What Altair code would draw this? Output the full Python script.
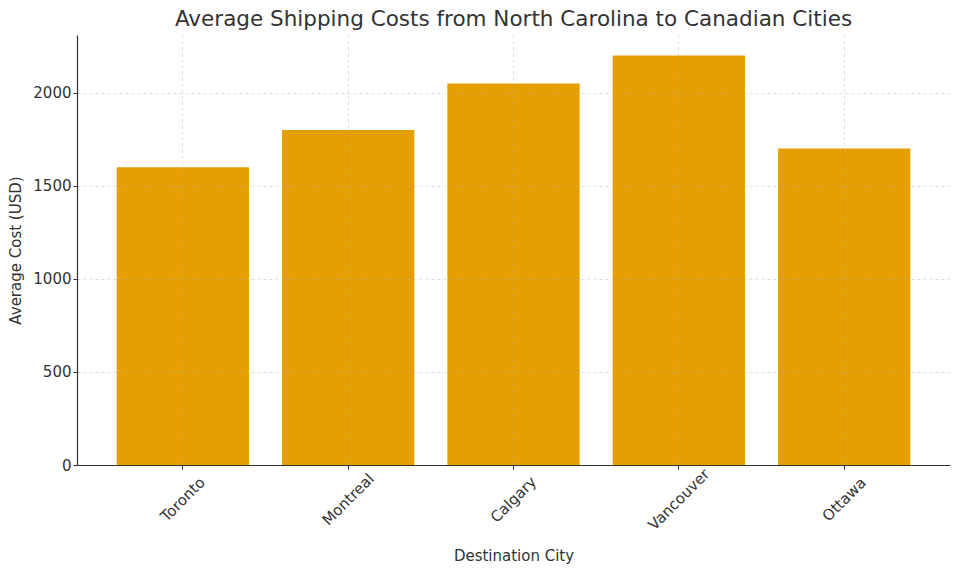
import altair as alt
import pandas as pd

cities = ["Toronto", "Montreal", "Calgary", "Vancouver", "Ottawa"]
costs = [1600, 1800, 2050, 2200, 1700]

df = pd.DataFrame({"city": cities, "cost": costs})

FONT = "DejaVu Sans"
INK = "#333333"

chart = (
    alt.Chart(df)
    .mark_bar(color="#E69F00")
    .encode(
        x=alt.X(
            "city:N",
            sort=cities,
            title="Destination City",
            scale=alt.Scale(paddingInner=0.2, paddingOuter=0.24),
            axis=alt.Axis(
                grid=True,
                labelAngle=-45,
                labelAlign="center",
                labelBaseline="middle",
                labelPadding=30,
                bandPosition=0.5,
                titlePadding=16,
                zindex=1,
            ),
        ),
        y=alt.Y(
            "cost:Q",
            title="Average Cost (USD)",
            scale=alt.Scale(domain=[0, 2310], nice=False),
            axis=alt.Axis(
                values=[0, 500, 1000, 1500, 2000],
                format="d",
                titlePadding=9,
                zindex=1,
            ),
        ),
    )
    .properties(
        width=873,
        height=430,
        autosize=alt.AutoSizeParams(type="none"),
        padding={"left": 69, "top": 27, "right": 2, "bottom": 100},
        title=alt.TitleParams(
            "Average Shipping Costs from North Carolina to Canadian Cities",
            fontSize=21.5,
            font=FONT,
            fontWeight="normal",
            color=INK,
            offset=5,
        ),
    )
    .configure_view(stroke=None)
    .configure_axis(
        labelFont=FONT,
        titleFont=FONT,
        labelFontSize=15,
        titleFontSize=15,
        titleFontWeight="normal",
        labelColor=INK,
        titleColor=INK,
        domainColor=INK,
        domainWidth=1.2,
        tickColor=INK,
        tickSize=4,
        gridColor="#b0b0b0",
        gridOpacity=0.55,
        gridDash=[3, 3],
        gridWidth=0.8,
    )
)

chart.save("out.html", embed_options={"renderer": "svg", "actions": False})
